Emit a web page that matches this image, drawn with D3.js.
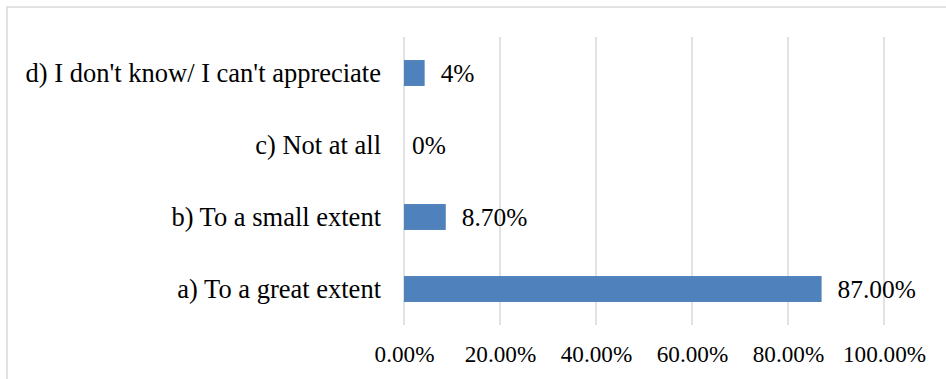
<!DOCTYPE html>
<html>
<head>
<meta charset="utf-8">
<script src="https://cdn.jsdelivr.net/npm/d3@7"></script>
<style>
body { margin: 0; background: #fff; }
</style>
</head>
<body>
<svg id="chart"></svg>
<script>
// data, bottom to top as in the picture
const categories = ["a) To a great extent", "b) To a small extent", "c) Not at all", "d) I don't know/ I can't appreciate"];
const values = [0.87, 0.087, 0, 0.043];
const valueLabels = ["87.00%", "8.70%", "0%", "4%"];
const ticks = [0, 0.2, 0.4, 0.6, 0.8, 1.0];

const fontFamily = "'Liberation Serif', 'Times New Roman', Times, serif";

let width = 946;
let height = 379;
let svg = d3.select("#chart")
            .attr("width", width)
            .attr("height", height)
            .style("font-family", fontFamily);

// рамка диаграммы
svg.append("rect")
   .attr("x", 7).attr("y", 7)
   .attr("width", 960).attr("height", 420)
   .style("fill", "none")
   .style("stroke", "#d9d9d9")
   .style("stroke-width", 1.5);

let plotLeft = 404, plotRight = 884, plotTop = 37, plotBottom = 325;

let scaleX = d3.scaleLinear()
               .domain([0, 1])
               .range([plotLeft, plotRight]);
let scaleY = d3.scaleBand()
               .domain(categories.slice().reverse())
               .range([plotTop, plotBottom])
               .paddingInner(0.64)
               .paddingOuter(0.32);

// сетка
svg.append("g")
   .selectAll("line")
   .data(ticks)
   .enter()
   .append("line")
   .attr("x1", d => scaleX(d))
   .attr("x2", d => scaleX(d))
   .attr("y1", plotTop)
   .attr("y2", plotBottom)
   .style("stroke", "#d9d9d9")
   .style("stroke-width", 1.5);

// ось X
let axisX = d3.axisBottom(scaleX)
              .tickValues(ticks)
              .tickFormat(d3.format(".2%"))
              .tickSize(0)
              .tickPadding(0);
let gx = svg.append("g")
   .attr("transform", `translate(0, ${plotBottom})`)
   .call(axisX);
gx.select(".domain").remove();
gx.attr("font-family", null).attr("font-size", null);
gx.selectAll("text")
  .attr("y", 36.5)
  .attr("dy", null)
  .style("font-family", fontFamily)
  .style("font-size", "23.2px")
  .attr("fill", "#000");

// подписи категорий
svg.append("g")
   .selectAll("text")
   .data(categories)
   .enter()
   .append("text")
   .attr("x", 381)
   .attr("y", d => scaleY(d) + scaleY.bandwidth() / 2)
   .attr("dy", "0.35em")
   .style("text-anchor", "end")
   .style("font-size", "26.5px")
   .text(d => d);

// столбцы
let bars = categories.map((c, i) => ({ c: c, v: values[i], label: valueLabels[i] }));
svg.append("g")
   .selectAll("rect")
   .data(bars)
   .enter()
   .append("rect")
   .attr("x", scaleX(0))
   .attr("y", d => scaleY(d.c))
   .attr("width", d => scaleX(d.v) - scaleX(0))
   .attr("height", scaleY.bandwidth())
   .attr("fill", "#4f81bd");

// подписи значений
svg.append("g")
   .selectAll("text")
   .data(bars)
   .enter()
   .append("text")
   .attr("x", d => scaleX(d.v) + (d.v > 0 ? 16 : 8))
   .attr("y", d => scaleY(d.c) + scaleY.bandwidth() / 2)
   .attr("dy", "0.35em")
   .style("font-size", "25.4px")
   .text(d => d.label);
</script>
</body>
</html>
